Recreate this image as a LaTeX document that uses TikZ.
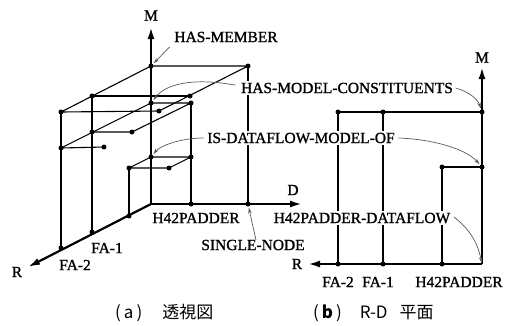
\documentclass[tikz,border=0pt]{standalone}
\usepackage{fontspec}
\setmainfont{Liberation Serif}
\newfontfamily\lblfont[FakeBold=1.2]{Liberation Serif}
\newfontfamily\cjk{Noto Sans CJK JP}
\usetikzlibrary{arrows.meta}
\tikzset{
  thinln/.style={line width=1.1pt},
  axis/.style={line width=2.2pt,-{Latex[length=12pt,width=7pt]}},
  leader/.style={black!65,line width=0.7pt,-{Stealth[length=6pt,width=3.5pt]},shorten >=1pt},
  lbl/.style={font=\lblfont\fontsize{15.5}{16}\selectfont,inner sep=1.5pt},
  wlbl/.style={lbl,fill=white},
  dot/.style={circle,fill=black,inner sep=0pt,minimum size=5pt},
  captext/.style={font=\cjk\fontsize{17}{18}\selectfont,inner sep=0pt,anchor=west}
}
\begin{document}
\begin{tikzpicture}[x=1pt,y=-1pt]
\useasboundingbox (0,0) rectangle (505,325);
% ---------- (a) perspective ----------
\coordinate (O) at (151,204);
\coordinate (Mtip) at (151,27);
\coordinate (Dtip) at (302,204);
\coordinate (Rtip) at (28,267);
\coordinate (r1) at (129,216);
\coordinate (r2) at (92,232);
\coordinate (r3) at (61,248);
\coordinate (dH) at (191,204);
\coordinate (dS) at (248,204);
\coordinate (m1) at (151,157);
\coordinate (m2) at (151,103);
\coordinate (m3) at (151,66);
\coordinate (a3) at (248,66);
\coordinate (b3) at (92,96);
\coordinate (c3) at (190,96);
\coordinate (e3) at (61,112);
\coordinate (f3) at (159,111);
\coordinate (a2) at (191,103);
\coordinate (b2) at (92,132);
\coordinate (c2) at (132,132);
\coordinate (e2) at (61,148);
\coordinate (f2) at (104,147);
\coordinate (a1) at (191,157);
\coordinate (b1) at (129,168);
\coordinate (c1) at (169,168);
% level m3
\draw[thinln] (m3) -- (a3) -- (f3) -- (e3) -- (m3);
\draw[thinln] (b3) -- (c3);
% level m2
\draw[thinln] (m2) -- (a2) -- (c2) -- (b2);
\draw[thinln] (m2) -- (e2) -- (f2);
% level m1
\draw[thinln] (m1) -- (a1) -- (c1) -- (b1) -- (m1);
% verticals
\draw[thinln] (e3) -- (r3);
\draw[thinln] (b3) -- (r2);
\draw[thinln] (b1) -- (r1);
\draw[thinln] (a2) -- (dH);
\draw[thinln] (a3) -- (dS);
% axes
\draw[axis] (O) -- (Mtip);
\draw[axis] (O) -- (Dtip);
\draw[axis] (O) -- (Rtip);
\foreach \p in {m3,a3,b3,c3,e3,f3,m2,a2,b2,c2,e2,f2,m1,a1,b1,c1,r1,r2,r3,dH,dS}
  \node[dot] (n\p) at (\p) {};
% ---------- (b) R-D plane ----------
\coordinate (O2) at (482,264);
\coordinate (M2tip) at (482,67);
\coordinate (R2tip) at (308,264);
\coordinate (p1) at (338,264);
\coordinate (p2) at (383,264);
\coordinate (p3) at (442,264);
\coordinate (q3) at (482,112);
\coordinate (q2) at (482,167);
\coordinate (t1) at (338,112);
\coordinate (t2) at (383,112);
\coordinate (s) at (442,167);
\draw[thinln] (t1) -- (q3);
\draw[thinln] (t1) -- (p1);
\draw[thinln] (t2) -- (p2);
\draw[thinln] (p3) -- (s) -- (q2);
\draw[axis] (O2) -- (M2tip);
\draw[axis] (O2) -- (R2tip);
\foreach \p in {p1,p2,p3,q3,q2,t1,t2,s}
  \node[dot] (n\p) at (\p) {};
% ---------- labels ----------
\node[lbl] (Mlab) at (151,15.5) {M};
\node[lbl] (Dlab) at (293,190) {D};
\node[lbl] (Rlab) at (17,272) {R};
\node[lbl] (hm) at (226,37) {HAS-MEMBER};
\node[wlbl] (hmc) at (347,88) {HAS-MODEL-CONSTITUENTS};
\node[wlbl] (idmo) at (301,138) {IS-DATAFLOW-MODEL-OF};
\node[lbl] (hpa) at (196,218) {H42PADDER};
\node[lbl] (sn) at (253,245) {SINGLE-NODE};
\node[lbl] (fa1a) at (107,248) {FA-1};
\node[lbl] (fa2a) at (75,265) {FA-2};
\node[lbl] (M2lab) at (482,57.5) {M};
\node[lbl] (R2lab) at (297,264) {R};
\node[wlbl] (hpd) at (362,218) {H42PADDER-DATAFLOW};
\node[lbl] (fa2b) at (338,282) {FA-2};
\node[lbl] (fa1b) at (378,282) {FA-1};
\node[lbl] (hpb) at (459,282) {H42PADDER};
% leaders
\draw[leader] ([xshift=-3pt,yshift=-3pt]hm.south west) -- (nm3);
\draw[leader] ([xshift=-4pt,yshift=-4pt]hmc.north west) .. controls (190,77) and (165,85) .. (nm2);
\draw[leader] ([xshift=1pt]hmc.east) .. controls (470,92) and (478,100) .. (nq3);
\draw[leader] ([xshift=-2pt]idmo.west) .. controls (180,138) and (160,146) .. (nm1);
\draw[leader] ([xshift=2pt]idmo.east) .. controls (430,139) and (465,148) .. (nq2);
\draw[leader] ([xshift=3pt,yshift=-2pt]sn.north) -- (ndS);
\draw[leader] ([xshift=2pt,yshift=1pt]hpd.east) .. controls (468,228) and (477,240) .. (O2);
% captions
\node[captext] (capa) at (115,313) {(\hspace{3pt}a\hspace{3pt})\hspace{20pt}透視図};
\node[captext] (capb) at (313,313) {(\hspace{3pt}\textbf{b}\hspace{3pt})\hspace{18pt}R-D\hspace{12pt}平面};
\end{tikzpicture}
\end{document}
